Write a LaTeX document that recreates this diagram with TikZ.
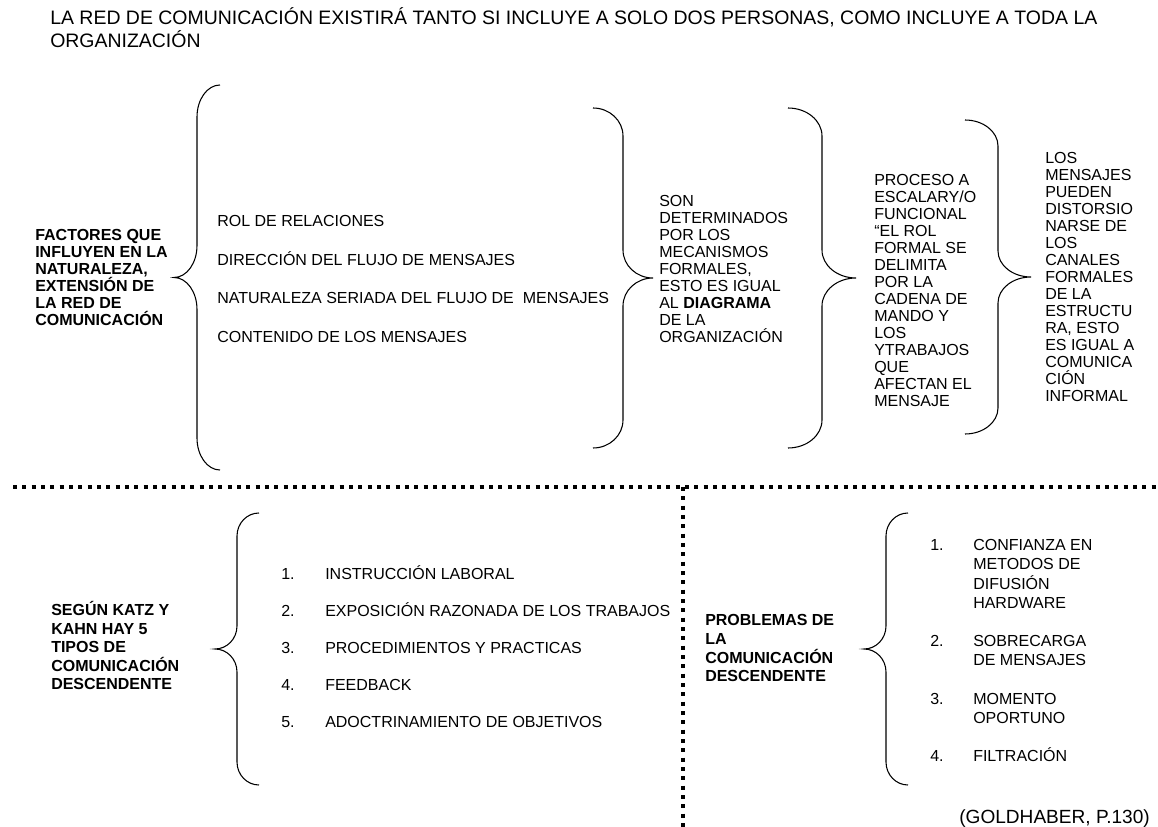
\documentclass[tikz,border=0pt]{standalone}
\usepackage{fontspec}
\setmainfont{Liberation Sans}

% Curly brace drawn from quarter ellipses:
% #1 x of the free ends, #2 x of the spine, #3 top y, #4 bottom y, #5 curl height.
% The tip lies as far beyond the spine as the ends lie before it.
\newcommand{\curlybrace}[5]{%
  \pgfmathsetmacro\cbd{#2-(#1)}%
  \pgfmathsetmacro\cbk{0.5523*\cbd}%
  \pgfmathsetmacro\cbtip{#2+\cbd}%
  \pgfmathsetmacro\cbm{(#3+#4)/2}%
  \pgfmathsetmacro\cbq{0.4477*#5}%
  \draw[bracestyle] (#1,#3) .. controls ({#1+\cbk},#3) and (#2,{#3+\cbq}) .. (#2,{#3+#5})
    -- (#2,{\cbm-#5}) .. controls (#2,{\cbm-\cbq}) and ({\cbtip-\cbk},\cbm) .. (\cbtip,\cbm)
    .. controls ({\cbtip-\cbk},\cbm) and (#2,{\cbm+\cbq}) .. (#2,{\cbm+#5})
    -- (#2,{#4-#5}) .. controls (#2,{#4-\cbq}) and ({#1+\cbk},#4) .. (#1,#4);
}

\begin{document}
\begin{tikzpicture}[x=0.75pt,y=-0.75pt,
  % multi-line nodes are placed by the baseline of their last line
  txt/.style={anchor=base west, inner sep=0pt, align=left,
    font=\fontsize{12pt}{12.75pt}\selectfont},
  lbl/.style={anchor=base west, inner sep=0pt, align=left,
    font=\fontsize{12pt}{12.75pt}\selectfont\bfseries},
  bracestyle/.style={draw=black, line width=0.8pt},
  dotline/.style={draw=black, line width=3pt, dash pattern=on 3pt off 4pt}]

\fill[white] (0,0) rectangle (1158,827);
\useasboundingbox (0,0) rectangle (1158,827);

% heading
\node[txt, font=\fontsize{14.6pt}{16.8pt}\selectfont] (title) at (50,47.1)
  {LA RED DE COMUNICACIÓN EXISTIRÁ TANTO SI INCLUYE A SOLO DOS PERSONAS, COMO INCLUYE A TODA LA\\ORGANIZACIÓN};

% upper section
\node[lbl] (factores) at (35,325.7)
  {FACTORES QUE\\INFLUYEN EN LA\\NATURALEZA,\\EXTENSIÓN DE\\LA RED DE\\COMUNICACIÓN};
\curlybrace{220}{197}{85}{470}{32}

\node[txt] (rol)  at (217,226.7) {ROL DE RELACIONES};
\node[txt] (dir)  at (217,265.2) {DIRECCIÓN DEL FLUJO DE MENSAJES};
\node[txt] (nat)  at (217,303.2) {NATURALEZA SERIADA DEL FLUJO DE\ \ MENSAJES};
\node[txt] (cont) at (217,342.2) {CONTENIDO DE LOS MENSAJES};
\curlybrace{593}{623}{108}{448}{28}

\node[txt] (son) at (659,342.7)
  {SON\\DETERMINADOS\\POR LOS\\MECANISMOS\\FORMALES,\\ESTO ES IGUAL\\AL \textbf{DIAGRAMA}\\DE LA\\ORGANIZACIÓN};
\curlybrace{788}{822}{108}{448}{28}

\node[txt] (proceso) at (874,406.7)
  {PROCESO A\\ESCALARY/O\\FUNCIONAL\\“EL ROL\\FORMAL SE\\DELIMITA\\POR LA\\CADENA DE\\MANDO Y\\LOS\\YTRABAJOS\\QUE\\AFECTAN EL\\MENSAJE};
\curlybrace{965}{998}{120}{434}{26}

\node[txt] (mensajes) at (1045,401.7)
  {LOS\\MENSAJES\\PUEDEN\\DISTORSIO\\NARSE DE\\LOS\\CANALES\\FORMALES\\DE LA\\ESTRUCTU\\RA, ESTO\\ES IGUAL A\\COMUNICA\\CIÓN\\INFORMAL};

% dotted dividers
\coordinate (hl) at (13,487);
\coordinate (hr) at (1158,487);
\coordinate (vt) at (683,487);
\coordinate (vb) at (683,827);
\draw[dotline] (hl) -- (hr);
\draw[dotline] (vt) -- (vb);

% lower left section
\node[lbl, font=\fontsize{12pt}{13.875pt}\selectfont\bfseries] (katz) at (51,689.7)
  {SEGÚN KATZ Y\\KAHN HAY 5\\TIPOS DE\\COMUNICACIÓN\\DESCENDENTE};
\curlybrace{259}{237}{513}{785}{23}

\node[txt] (n1) at (281,579.7) {1.};
\node[txt] (i1) at (325,579.7) {INSTRUCCIÓN LABORAL};
\node[txt] (n2) at (281,616.7) {2.};
\node[txt] (i2) at (325,616.7) {EXPOSICIÓN RAZONADA DE LOS TRABAJOS};
\node[txt] (n3) at (281,653.7) {3.};
\node[txt] (i3) at (325,653.7) {PROCEDIMIENTOS Y PRACTICAS};
\node[txt] (n4) at (281,690.7) {4.};
\node[txt] (i4) at (325,690.7) {FEEDBACK};
\node[txt] (n5) at (281,727.7) {5.};
\node[txt] (i5) at (325,727.7) {ADOCTRINAMIENTO DE OBJETIVOS};

% lower right section
\node[lbl, font=\fontsize{12pt}{14pt}\selectfont\bfseries] (problemas) at (705,681.7)
  {PROBLEMAS DE\\LA\\COMUNICACIÓN\\DESCENDENTE};
\curlybrace{908}{886}{513}{785}{23}

\node[txt] (p1) at (930,550.7) {1.};
\node[txt, font=\fontsize{12pt}{14.4pt}\selectfont] (q1) at (973,608.3)
  {CONFIANZA EN\\METODOS DE\\DIFUSIÓN\\HARDWARE};
\node[txt] (p2) at (930,646.7) {2.};
\node[txt, font=\fontsize{12pt}{14.4pt}\selectfont] (q2) at (973,665.9)
  {SOBRECARGA\\DE MENSAJES};
\node[txt] (p3) at (930,704.3) {3.};
\node[txt, font=\fontsize{12pt}{14.4pt}\selectfont] (q3) at (973,723.5)
  {MOMENTO\\OPORTUNO};
\node[txt] (p4) at (930,761.9) {4.};
\node[txt] (q4) at (973,761.9) {FILTRACIÓN};

\node[txt, anchor=base east, font=\fontsize{14.3pt}{16.4pt}\selectfont] (fuente) at (1150,823.7)
  {(GOLDHABER, P.130)};

\end{tikzpicture}
\end{document}
